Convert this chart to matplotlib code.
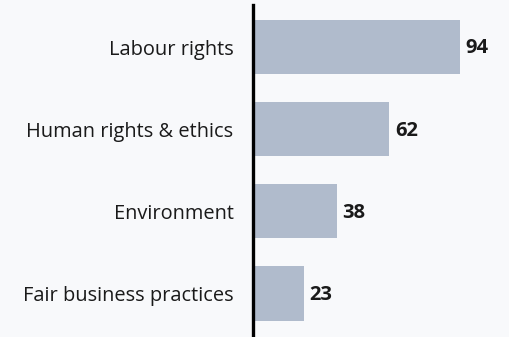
import matplotlib
matplotlib.use("Agg")
import matplotlib.pyplot as plt

categories = ["Labour rights", "Human rights & ethics", "Environment", "Fair business practices"]
values = [94, 62, 38, 23]

BG = "#f8f9fb"
BAR = "#b0bbcc"
TXT = "#1a1a1a"

plt.rcParams["font.family"] = ["Open Sans", "DejaVu Sans"]

fig = plt.figure(figsize=(5.10, 3.37), dpi=100, facecolor=BG)
W, H = 510, 337
ax = fig.add_axes([253 / W, 0, 257 / W, 332 / H])
ax.set_facecolor(BG)

ypos = list(range(len(categories)))
ax.barh(ypos, values, height=0.66, color=BAR, zorder=1)
ax.set_xlim(0, 257 / 2.2)
ax.set_ylim(3.53, -0.512)

for y, v in zip(ypos, values):
    ax.annotate(str(v), (v, y), xytext=(4, -1), textcoords="offset points",
                va="center", ha="left", fontsize=14.5, fontweight="bold", color=TXT)

ax.set_yticks(ypos)
ax.set_yticklabels(categories, fontsize=14.4, color=TXT)
ax.tick_params(axis="y", length=0, pad=14)
ax.set_xticks([])
for s in ["top", "right", "bottom"]:
    ax.spines[s].set_visible(False)
ax.spines["left"].set_linewidth(2.4)
ax.spines["left"].set_color("black")
ax.spines["left"].set_zorder(3)

fig.savefig("out.png", dpi=100, facecolor=BG)
